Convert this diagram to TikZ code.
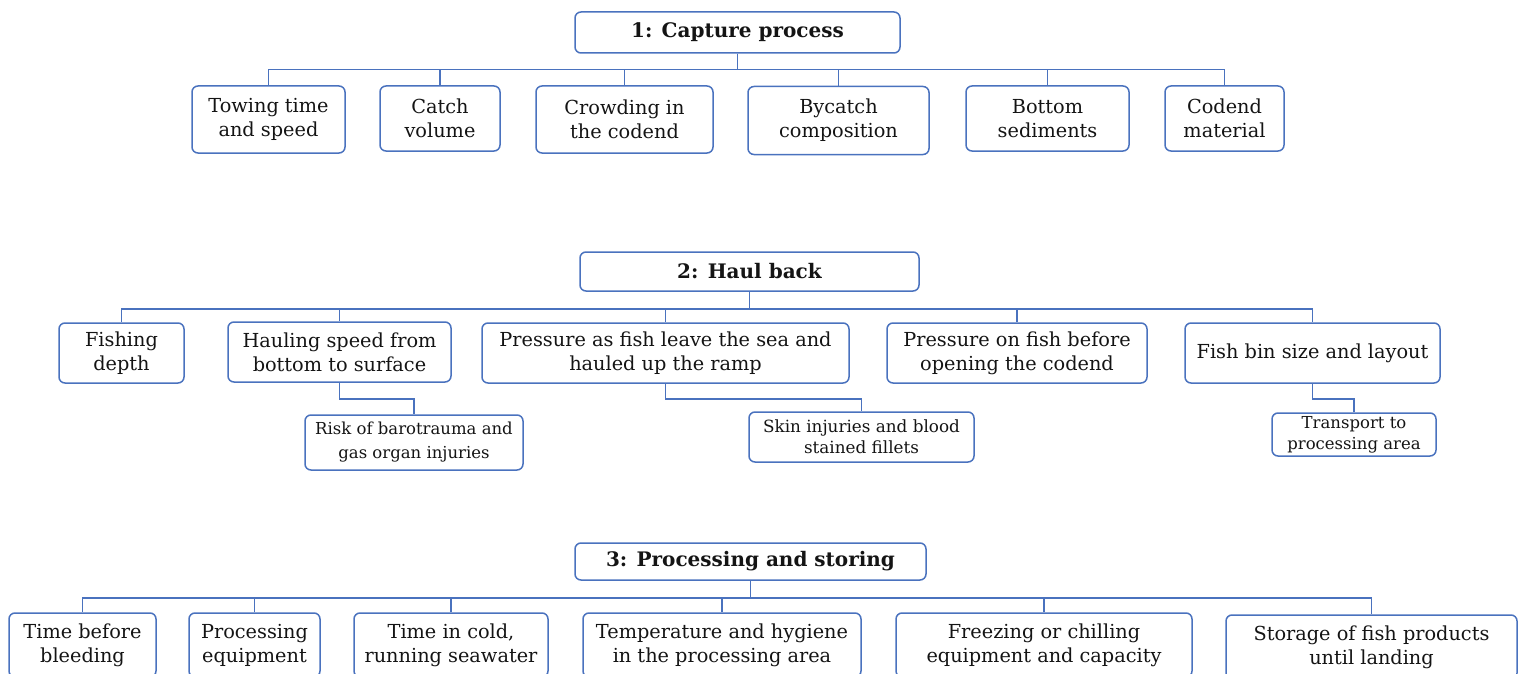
\documentclass[tikz,border=0pt]{standalone}
\usepackage{fontspec}
\setmainfont{DejaVu Serif}
\definecolor{bl}{HTML}{4A72BE}
\definecolor{txt}{HTML}{141414}
\newcommand\fsz[2]{\fontsize{#1}{#2}\selectfont}
\tikzset{
  box/.style={draw=bl, line width=1.5pt, rounded corners=6pt, align=center, inner sep=0pt, text=txt, font=\fsz{19.3}{24}},
  hdr/.style={box, font=\bfseries\fsz{20}{25}},
  link/.style={draw=bl, line width=1.5pt},
}
\begin{document}
\begin{tikzpicture}[x=1pt,y=-1pt]
\useasboundingbox (0,0) rectangle (1520,674);
% Row 1
\node[hdr, minimum width=325, minimum height=41] (h1) at (737.5,32.5) {1: Capture process};
\node[box, minimum width=153, minimum height=67] (t1) at (268.5,119.5) {Towing time\\and speed};
\node[box, minimum width=120, minimum height=65] (t2) at (440,118.5) {Catch\\volume};
\node[box, minimum width=177, minimum height=67] (t3) at (624.5,119.5) {Crowding in\\the codend};
\node[box, minimum width=181, minimum height=68] (t4) at (838.5,120.5) {Bycatch\\composition};
\node[box, minimum width=163, minimum height=65] (t5) at (1047.5,118.5) {Bottom\\sediments};
\node[box, minimum width=119, minimum height=65] (t6) at (1224.5,118.5) {Codend\\material};
\foreach \c in {t1,t2,t3,t4,t5,t6} \draw[link] (h1.south) -- ++(0,16) -| (\c.north);
% Row 2
\node[hdr, minimum width=339, minimum height=39] (h2) at (749.5,271.5) {2: Haul back};
\node[box, minimum width=125, minimum height=60] (m1) at (121.5,353) {Fishing\\depth};
\node[box, minimum width=223, minimum height=60] (m2) at (339.5,352) {Hauling speed from\\bottom to surface};
\node[box, minimum width=367, minimum height=60] (m3) at (665.5,353) {Pressure as fish leave the sea and\\hauled up the ramp};
\node[box, minimum width=260, minimum height=60] (m4) at (1017,353) {Pressure on fish before\\opening the codend};
\node[box, minimum width=255, minimum height=60] (m5) at (1312.5,353) {Fish bin size and layout};
\foreach \c in {m1,m2,m3,m4,m5} \draw[link] (h2.south) -- ++(0,17) -| (\c.north);
\node[box, font=\fsz{16.5}{24}, minimum width=218, minimum height=55] (s1) at (414,442.5) {Risk of barotrauma and\\gas organ injuries};
\node[box, font=\fsz{16.8}{21}, minimum width=225, minimum height=50] (s2) at (861.5,437) {Skin injuries and blood\\stained fillets};
\node[box, font=\fsz{16.5}{21}, minimum width=164, minimum height=43] (s3) at (1354,434.5) {Transport to\\processing area};
\draw[link] (m2.south) -- ++(0,16) -| (s1.north);
\draw[link] (m3.south) -- ++(0,15) -| (s2.north);
\draw[link] (m5.south) -- ++(0,15) -| (s3.north);
% Row 3
\node[hdr, minimum width=351, minimum height=37] (h3) at (750.5,561.5) {3: Processing and storing};
\node[box, minimum width=147, minimum height=64] (b1) at (82.5,645) {Time before\\bleeding};
\node[box, minimum width=131, minimum height=64] (b2) at (254.5,645) {Processing\\equipment};
\node[box, minimum width=194, minimum height=64] (b3) at (451,645) {Time in cold,\\running seawater};
\node[box, minimum width=278, minimum height=64] (b4) at (722,645) {Temperature and hygiene\\in the processing area};
\node[box, minimum width=296, minimum height=64] (b5) at (1044,645) {Freezing or chilling\\equipment and capacity};
\node[box, minimum width=291, minimum height=64] (b6) at (1371.5,647) {Storage of fish products\\until landing};
\foreach \c in {b1,b2,b3,b4,b5,b6} \draw[link] (h3.south) -- ++(0,17) -| (\c.north);
\end{tikzpicture}
\end{document}
